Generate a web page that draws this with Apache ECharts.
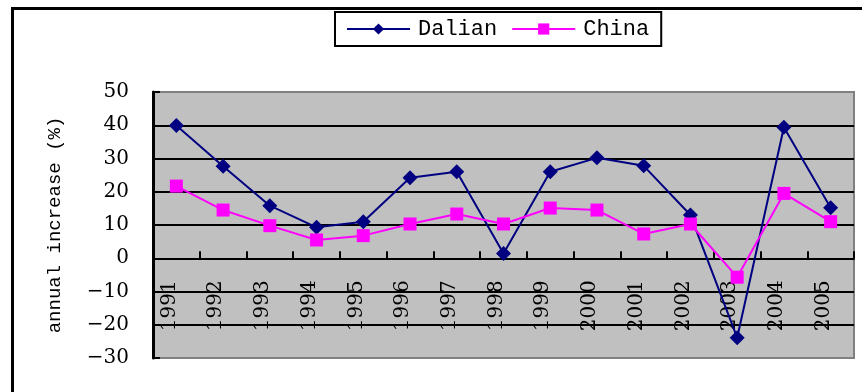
<!DOCTYPE html>
<html>
<head>
<meta charset="utf-8">
<script src="https://cdn.jsdelivr.net/npm/echarts@6/dist/echarts.min.js"></script>
<style>
  html, body { margin: 0; padding: 0; background: #fff; }
  #chart { width: 862px; height: 392px; }
</style>
</head>
<body>
<div id="chart"></div>
<script>
// Annual increase (%) by year, Dalian vs. China
const years = ['1991', '1992', '1993', '1994', '1995', '1996', '1997', '1998',
               '1999', '2000', '2001', '2002', '2003', '2004', '2005'];
const dalian = [39.9, 27.7, 15.8, 9.3, 11.0, 24.2, 26.0, 1.4, 26.0, 30.2, 27.8, 13.0, -23.9, 39.4, 15.2];
const china = [21.7, 14.5, 9.8, 5.5, 6.8, 10.3, 13.3, 10.3, 15.1, 14.5, 7.3, 10.3, -5.7, 19.5, 11.0];
const yTicks = [-30, -20, -10, 0, 10, 20, 30, 40, 50];

const Y_MIN = -30, Y_MAX = 50;
const GRID = { left: 153, right: 8, top: 92, bottom: 34 };
const plotH = 392 - GRID.top - GRID.bottom;
// distance from the bottom edge of the plot up to the zero line
const zeroLift = plotH * (0 - Y_MIN) / (Y_MAX - Y_MIN);

const chart = echarts.init(document.getElementById('chart'), null, { renderer: 'canvas' });

// inner split lines black, the outer ones (top / bottom edge) grey like the frame
const splitColors = yTicks.map((v, i) => (i === 0 || i === yTicks.length - 1) ? '#808080' : '#000000');

chart.setOption({
  animation: false,
  backgroundColor: '#ffffff',
  graphic: [{
    type: 'rect',
    shape: { x: 12.5, y: 8.5, width: 1000, height: 600 },
    style: { fill: 'none', stroke: '#000', lineWidth: 3 },
    silent: true,
    z: 0
  }],
  legend: {
    left: 335,
    top: 12,
    padding: [6, 12, 6, 11],
    itemGap: 14,
    itemWidth: 63,
    itemHeight: 14,
    borderColor: '#000',
    borderWidth: 2,
    backgroundColor: '#fff',
    textStyle: { fontFamily: 'Liberation Mono', fontSize: 22, color: '#000', padding: [0, 0, 0, 3] },
    data: ['Dalian', 'China']
  },
  grid: Object.assign({
    containLabel: false,
    outerBoundsMode: 'none',
    show: true,
    backgroundColor: '#c0c0c0',
    borderColor: '#808080',
    borderWidth: 2
  }, GRID),
  xAxis: [{
    // axis line and ticks sitting on the zero line
    type: 'category',
    data: years,
    boundaryGap: true,
    axisLine: { onZero: true, lineStyle: { color: '#000', width: 2 } },
    axisTick: { show: true, inside: true, length: 7, alignWithLabel: false, lineStyle: { color: '#000', width: 2 } },
    axisLabel: { show: false },
    splitLine: { show: false }
  }, {
    // year labels hanging below the zero line
    type: 'category',
    data: years,
    boundaryGap: true,
    position: 'bottom',
    offset: -zeroLift,
    axisLine: { show: false, onZero: false },
    axisTick: { show: false },
    axisLabel: {
      rotate: 90,
      margin: 22,
      interval: 0,
      verticalAlign: 'bottom',
      lineHeight: 14,
      fontFamily: 'DejaVu Serif',
      fontSize: 20,
      color: '#000'
    },
    splitLine: { show: false }
  }],
  yAxis: {
    type: 'value',
    min: Y_MIN,
    max: Y_MAX,
    interval: 10,
    name: 'annual increase (%)',
    nameLocation: 'middle',
    nameGap: 89,
    nameRotate: 90,
    nameTextStyle: { fontFamily: 'Liberation Mono', fontSize: 19, color: '#000' },
    axisLine: { show: true, lineStyle: { color: '#000', width: 3 } },
    axisTick: { show: true, inside: true, length: 7, lineStyle: { color: '#000', width: 2 } },
    axisLabel: {
      margin: 24,
      fontFamily: 'DejaVu Serif',
      fontSize: 20,
      color: '#000',
      formatter: v => String(v).replace('-', '\u2212')
    },
    splitLine: { show: true, lineStyle: { color: splitColors, width: 2 } }
  },
  series: [
    {
      name: 'Dalian',
      type: 'line',
      data: dalian,
      symbol: 'diamond',
      symbolSize: 15,
      color: '#000080',
      lineStyle: { color: '#000080', width: 2 },
      itemStyle: { color: '#000080' },
      z: 3
    },
    {
      name: 'China',
      type: 'line',
      data: china,
      symbol: 'rect',
      symbolSize: 13,
      color: '#ff00ff',
      lineStyle: { color: '#ff00ff', width: 2 },
      itemStyle: { color: '#ff00ff' },
      z: 4
    }
  ]
});
</script>
</body>
</html>
